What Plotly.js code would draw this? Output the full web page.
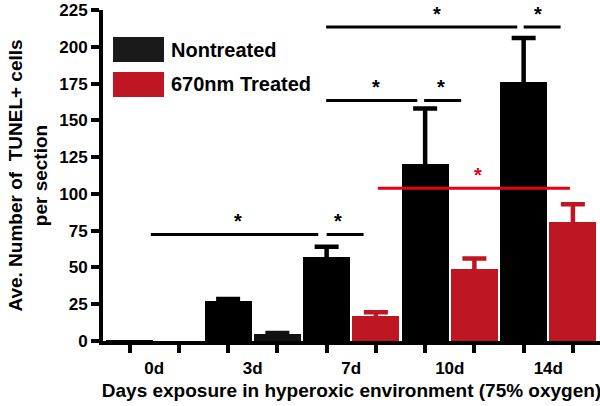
<!DOCTYPE html>
<html><head><meta charset="utf-8">
<script src="https://cdn.plot.ly/plotly-3.0.1.min.js"></script>
<style>html,body{margin:0;padding:0;background:#fff}#chart{width:600px;height:406px}</style>
</head><body><div id="chart"></div>
<script>
// ---- data ----
const days = ['0d', '3d', '7d', '10d', '14d'];
const nontreated = [0.5, 27, 57, 120, 176];
const nontreatedErr = [null, 1.5, 7, 38, 30];
const treated = [0, 4.5, 17, 49, 81];
const treatedErr = [null, 1, 2.5, 7, 12];
const seriesNames = ['Nontreated', '670nm Treated'];
// significance brackets (x in bar-slot units, level in cells/section)
const sigFrom = [3.99, 8.0, 3.99, 5.98, 5.04, 0.43, 4.0];
const sigTo = [7.87, 8.75, 5.84, 6.73, 8.94, 3.83, 4.75];
const sigLevel = [213.5, 213.5, 163.5, 163.5, 103.8, 72.4, 72.4];
const sigStarAt = [6.25, 8.29, 5.0, 6.32, 7.07, 2.2, 4.24];
const sigLabel = ['*', '*', '*', '*', '*', '*', '*'];
const sigTreatedGroup = [false, false, false, false, true, false, false];
const yTicks = [0, 25, 50, 75, 100, 125, 150, 175, 200, 225];
const xTitle = 'Days exposure in hyperoxic environment (75% oxygen)';
const yTitle = 'Ave. Number of\u00a0 TUNEL+ cells<br>per section';

// ---- style ----
const BLACK = '#000000';
const RED = '#be1622';
const SIGRED = '#e2001a';
const FONT = 'Liberation Sans, Arial, Helvetica, sans-serif';
const treatedDarkIdx = [1]; // the 3d treated bar is drawn dark in the original
const CAP_HIDE = 3; // tuck the lower error-bar cap inside the bar (drawing only)
const M = {l: 103, r: 0, t: 10, b: 65};
const W = 600 - M.l - M.r, H = 406 - M.t - M.b;
const px2x = p => (p - M.l) / W;
const px2y = p => 1 - (p - M.t) / H;

function barTrace(name, slotOffset, vals, idx, color) {
  return {
    type: 'bar', name: name, showlegend: false,
    x: idx.map(i => 2 * i + slotOffset),
    y: idx.map(i => vals[i]),
    width: 0.955,
    marker: {color: color, line: {width: 0}},
    hoverinfo: 'skip'
  };
}
function errTrace(slotOffset, vals, errs, idx, color) {
  const ok = idx.filter(i => errs[i] != null);
  return {
    type: 'scatter', mode: 'none', showlegend: false, hoverinfo: 'skip',
    x: ok.map(i => 2 * i + slotOffset),
    y: ok.map(i => vals[i]),
    error_y: {type: 'data', symmetric: false,
      array: ok.map(i => errs[i]), arrayminus: ok.map(() => CAP_HIDE),
      color: color, thickness: 4.5, width: 12}
  };
}
const all = days.map((d, i) => i);
const trRed = all.filter(i => !treatedDarkIdx.includes(i));
const trDark = all.filter(i => treatedDarkIdx.includes(i));
const traces = [
  barTrace(seriesNames[0], 0, nontreated, all, BLACK),
  barTrace(seriesNames[1], 1, treated, trRed, RED),
  barTrace(seriesNames[1], 1, treated, trDark, '#111111'),
  errTrace(0, nontreated, nontreatedErr, all, BLACK),
  errTrace(1, treated, treatedErr, trRed, RED),
  errTrace(1, treated, treatedErr, trDark, '#111111'),
  {type: 'scatter', x: [], y: [], xaxis: 'x2', showlegend: false}
];

const shapes = [];
const annotations = [];
sigFrom.forEach((x0, k) => {
  const c = sigTreatedGroup[k] ? SIGRED : BLACK;
  shapes.push({type: 'line', xref: 'x', yref: 'y', x0: x0, x1: sigTo[k],
    y0: sigLevel[k], y1: sigLevel[k], line: {color: c, width: 3}});
  annotations.push({xref: 'x', yref: 'y', x: sigStarAt[k], y: sigLevel[k],
    text: sigLabel[k], showarrow: false, yanchor: 'middle', yshift: 13,
    font: {family: FONT, size: 20, weight: 700, color: c}});
});
// legend (drawn as boxes + text to match the original's large swatches)
const legColors = ['#1a1a1a', RED];
const legRows = [49.5, 84.5];
seriesNames.forEach((n, k) => {
  shapes.push({type: 'rect', xref: 'paper', yref: 'paper',
    x0: px2x(113), x1: px2x(164), y0: px2y(legRows[k] - 12.5), y1: px2y(legRows[k] + 12.5),
    fillcolor: legColors[k], line: {width: 0}});
  annotations.push({xref: 'paper', yref: 'paper', x: px2x(169), y: px2y(legRows[k]),
    xanchor: 'left', yanchor: 'middle', showarrow: false, text: n,
    font: {family: FONT, size: 20, weight: 700, color: BLACK}});
});

const xr = [-0.54, 9.55];
const layout = {
  width: 600, height: 406, margin: M,
  paper_bgcolor: '#fff', plot_bgcolor: '#fff',
  font: {family: FONT, color: BLACK, weight: 700},
  showlegend: false,
  bargap: 0,
  xaxis: {range: xr, tickvals: all.flatMap(i => [2 * i, 2 * i + 1]), showticklabels: false,
    ticks: 'outside', ticklen: 8, tickwidth: 4, tickcolor: BLACK,
    showline: true, linewidth: 4, linecolor: BLACK, showgrid: false, zeroline: false, fixedrange: true},
  xaxis2: {overlaying: 'x', anchor: 'y', side: 'bottom', range: xr,
    tickvals: all.map(i => 2 * i + 0.5), ticktext: days,
    ticks: 'outside', ticklen: 12, tickcolor: 'rgba(0,0,0,0)',
    tickfont: {family: FONT, size: 17, weight: 700, color: BLACK},
    showline: false, showgrid: false, zeroline: false,
    title: {text: xTitle, font: {family: FONT, size: 19, weight: 700, color: BLACK}, standoff: 6}},
  yaxis: {range: [0, 225], tickvals: yTicks, ticktext: yTicks.map(String),
    ticks: 'outside', ticklen: 8, tickwidth: 4, tickcolor: BLACK,
    tickfont: {family: FONT, size: 17, weight: 700, color: BLACK},
    showline: true, linewidth: 4, linecolor: BLACK, showgrid: false, zeroline: false,
    title: {text: yTitle, font: {family: FONT, size: 19, weight: 700, color: BLACK}, standoff: 8}},
  shapes: shapes, annotations: annotations
};
Plotly.newPlot('chart', traces, layout, {staticPlot: true, displayModeBar: false});
</script></body></html>
